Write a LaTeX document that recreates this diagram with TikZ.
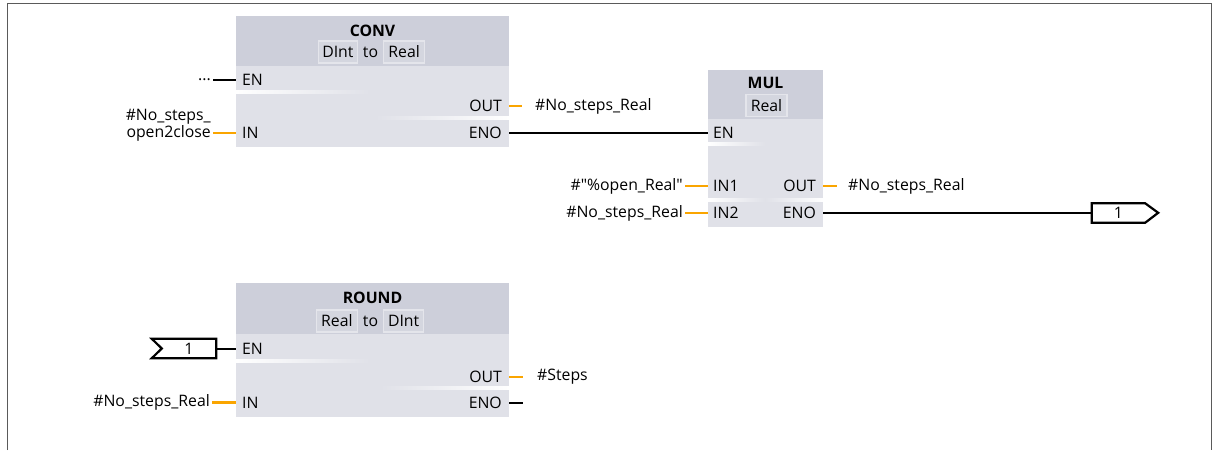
\documentclass[tikz,border=0pt]{standalone}
\usepackage{fontspec}
\setmainfont{Open Sans}[Ligatures=TeXOff]
\definecolor{hdrc}{RGB}{205,207,218}
\definecolor{bodyc}{RGB}{224,225,232}
\definecolor{tboxf}{RGB}{212,214,223}
\definecolor{tboxd}{RGB}{228,229,235}
\definecolor{orng}{RGB}{250,165,0}
\definecolor{framec}{RGB}{90,90,90}
\newcommand\fs{\fontsize{15.8}{15.5}\selectfont}
\tikzset{
  lbl/.style={font=\fs, inner sep=2pt},
  ttl/.style={font=\fs\bfseries, inner sep=0pt},
  wireb/.style={draw=black, line width=2},
  wirebs/.style={draw=black, line width=2.8},
  wireo/.style={draw=orng, line width=2.5},
  hdr/.style={fill=hdrc, draw=none, anchor=north west, inner sep=0pt},
  bodybox/.style={fill=bodyc, draw=none, anchor=north west, inner sep=0pt},
  tbox/.style={draw=tboxd, fill=tboxf, line width=1.2, minimum height=22, inner sep=2pt, font=\fs},
  connbox/.style={draw=black, line width=2.2},
}
\begin{document}
\begin{tikzpicture}[x=1pt,y=-1pt]
\useasboundingbox (0,0) rectangle (1213,450);
% frame
\draw[framec, line width=1.2] (7.5,450) -- (7.5,3.5) -- (1211.5,3.5) -- (1211.5,450);

% ---------- CONV ----------
\node[bodybox, minimum width=273, minimum height=131] (conv) at (236,16) {};
\node[hdr, minimum width=273, minimum height=50] (convh) at (236,16) {};
\node[ttl] (convt) at (372.5,31) {CONV};
\node[lbl] (convto) at (370.5,52) {to};
\node[tbox, anchor=east, minimum width=39] (convt1) at (358,52) {DInt};
\node[tbox, anchor=west, minimum width=41] (convt2) at (383,52) {Real};
\shade[left color=white, right color=bodyc] (236,90.5) rectangle (370,93.5);
\shade[left color=bodyc, right color=white] (375,116) rectangle (509,119);
\node[lbl, anchor=west] (conv-en) at (240,80) {EN};
\node[lbl, anchor=east] (conv-out) at (504,106) {OUT};
\node[lbl, anchor=west] (conv-in) at (240,133) {IN};
\node[lbl, anchor=east] (conv-eno) at (504,133) {ENO};

\node[lbl, anchor=east] (dots) at (213,80) {...};
\draw[wireb] (dots.east) -- (conv.west |- conv-en);
\node[lbl, anchor=east, align=right] (n2c) at (213,125.5) {\#No\_steps\_\\open2close};
\draw[wireo] (n2c.east |- conv-in) -- (conv.west |- conv-in);
\coordinate (conv-out-end) at (522,106);
\draw[wireo] (conv.east |- conv-out) -- (conv-out-end);
\node[lbl, anchor=west] (convoutv) at (533,106) {\#No\_steps\_Real};

% ---------- MUL ----------
\node[bodybox, minimum width=115, minimum height=157] (mul) at (708,70) {};
\node[hdr, minimum width=115, minimum height=49] (mulh) at (708,70) {};
\node[ttl] (mult) at (765.5,83) {MUL};
\node[tbox, minimum width=41] (mult1) at (766.5,105.5) {Real};
\shade[left color=white, right color=bodyc] (708,142.5) rectangle (765,145.5);
\shade[left color=white, right color=bodyc] (708,198.5) rectangle (765,201.5);
\shade[left color=bodyc, right color=white] (765,198.5) rectangle (823,201.5);
\node[lbl, anchor=west] (mul-en) at (711,133) {EN};
\node[lbl, anchor=west] (mul-in1) at (711,186) {IN1};
\node[lbl, anchor=west] (mul-in2) at (711,213) {IN2};
\node[lbl, anchor=east] (mul-out) at (818,186) {OUT};
\node[lbl, anchor=east] (mul-eno) at (818,213) {ENO};

\draw[wireb] (conv.east |- conv-eno) -- (mul.west |- mul-en);
\draw[wirebs] ([xshift=-21pt]mul.west |- mul-en) -- (mul.west |- mul-en);
\node[lbl, anchor=east] (openr) at (685,186) {\#"\%open\_Real"};
\draw[wireo] (openr.east) -- (mul.west |- mul-in1);
\node[lbl, anchor=east] (nsr2) at (685,213) {\#No\_steps\_Real};
\draw[wireo] (nsr2.east) -- (mul.west |- mul-in2);
\coordinate (mul-out-end) at (837,186);
\draw[wireo] (mul.east |- mul-out) -- (mul-out-end);
\node[lbl, anchor=west] (muloutv) at (846,186) {\#No\_steps\_Real};

\node[font=\fs, inner sep=0pt, minimum width=53, minimum height=19] (out1) at (1118.5,213) {1};
\draw[connbox, line join=miter] (out1.north west) -- (out1.north east) -- ++(13,9.5) -- (out1.south east) -- (out1.south west) -- cycle;
\draw[wireb] (mul.east |- mul-eno) -- (out1.west);
\draw[wirebs] ([xshift=-5pt]out1.west) -- (out1.west);

% ---------- ROUND ----------
\node[bodybox, minimum width=273, minimum height=134] (round) at (236,283) {};
\node[hdr, minimum width=273, minimum height=51] (roundh) at (236,283) {};
\node[ttl] (roundt) at (372.5,297.5) {ROUND};
\node[lbl] (roundto) at (370.5,321) {to};
\node[tbox, anchor=east, minimum width=41] (roundt1) at (358,321) {Real};
\node[tbox, anchor=west, minimum width=40] (roundt2) at (383,321) {DInt};
\shade[left color=white, right color=bodyc] (236,359) rectangle (370,362);
\shade[left color=bodyc, right color=white] (380,386.5) rectangle (509,389.5);
\node[lbl, anchor=west] (round-en) at (240,348.5) {EN};
\node[lbl, anchor=east] (round-out) at (504,377) {OUT};
\node[lbl, anchor=west] (round-in) at (240,402.5) {IN};
\node[lbl, anchor=east] (round-eno) at (504,402.5) {ENO};

\node[font=\fs, inner sep=0pt, minimum width=54, minimum height=19] (in1) at (189,348.5) {1};
\draw[connbox, line join=miter] ([xshift=-10pt]in1.north west) -- (in1.north east) -- (in1.south east) -- ([xshift=-10pt]in1.south west) -- (in1.west) -- cycle;
\draw[wireb] (in1.east) -- (round.west |- round-en);
\node[lbl, anchor=east] (nsr3) at (212,402.5) {\#No\_steps\_Real};
\draw[wireo] (nsr3.east) -- (round.west |- round-in);
\coordinate (round-out-end) at (523,377);
\draw[wireo] (round.east |- round-out) -- (round-out-end);
\node[lbl, anchor=west] (steps) at (535,377) {\#Steps};
\coordinate (round-eno-end) at (523,402.5);
\draw[wireb] (round.east |- round-eno) -- (round-eno-end);
\end{tikzpicture}
\end{document}
